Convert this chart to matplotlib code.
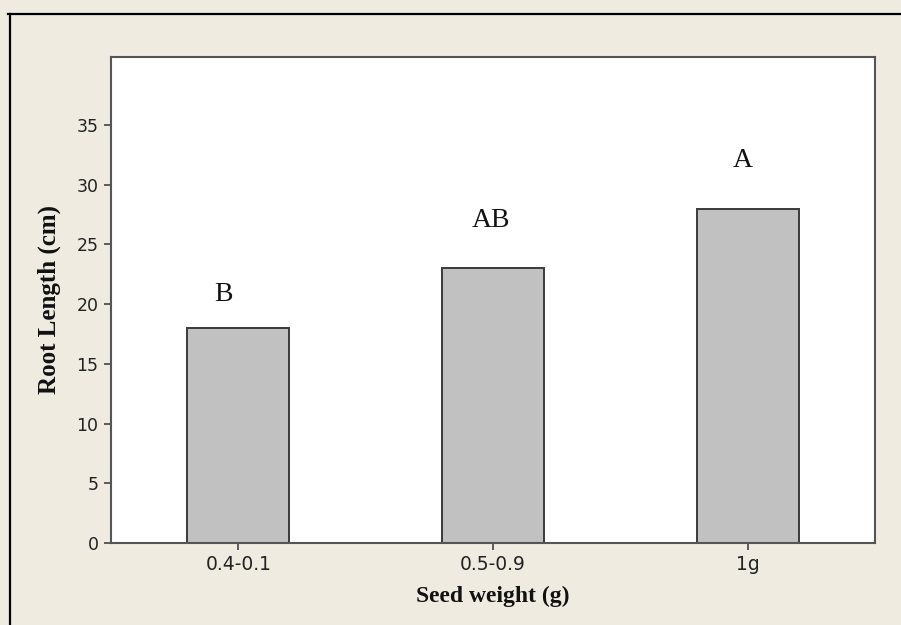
import matplotlib.pyplot as plt
from matplotlib.lines import Line2D

# data
categories = ["0.4-0.1", "0.5-0.9", "1g"]
root_length = [18.0, 23.0, 28.0]
letters = ["B", "AB", "A"]
letter_y = [20.3, 26.5, 31.5]
letter_dx = [-0.06, -0.006, -0.02]
y_ticks = [0, 5, 10, 15, 20, 25, 30, 35]

W, H = 901, 625
fig = plt.figure(figsize=(W / 100, H / 100), dpi=100)
fig.patch.set_facecolor("#efebe1")

# thin frame lines at the top and left of the picture
fig.add_artist(Line2D([8 / W, 1.0], [1 - 13.5 / H] * 2, color="black", lw=1.6))
fig.add_artist(Line2D([9.5 / W] * 2, [0.0, 1 - 13.5 / H], color="black", lw=1.6))

ax = fig.add_axes([111 / W, 1 - 543 / H, (875 - 111) / W, (543 - 57) / H])
ax.set_facecolor("white")

x = list(range(len(categories)))
ax.bar(x, root_length, width=0.4, color="#c1c1c1", edgecolor="#3a3a3a",
       linewidth=1.4, zorder=2)

serif = ["Liberation Serif", "DejaVu Serif"]
for xi, dx, lab, ly in zip(x, letter_dx, letters, letter_y):
    ax.text(xi + dx, ly, lab, ha="center", va="baseline", fontsize=20,
            family=serif, color="#111111")

ax.set_xlim(-0.5, 2.5)
ax.set_ylim(0, 40.7)
ax.set_xticks(x)
ax.set_xticklabels(categories)
ax.set_yticks(y_ticks)

for s in ax.spines.values():
    s.set_color("#555555")
    s.set_linewidth(1.5)

ax.tick_params(axis="both", direction="out", length=5, width=1.2,
               color="#444444", labelsize=12.5, labelcolor="#222222", pad=4)
ax.tick_params(axis="x", labelsize=13.5)

ax.set_ylabel("Root Length (cm)", family=serif, fontweight="bold",
              fontsize=18, labelpad=11, color="#111111")
ax.set_xlabel("Seed weight (g)", family=serif, fontweight="bold",
              fontsize=17, labelpad=8, color="#111111")

fig.savefig("out.png", dpi=100, facecolor=fig.get_facecolor())
